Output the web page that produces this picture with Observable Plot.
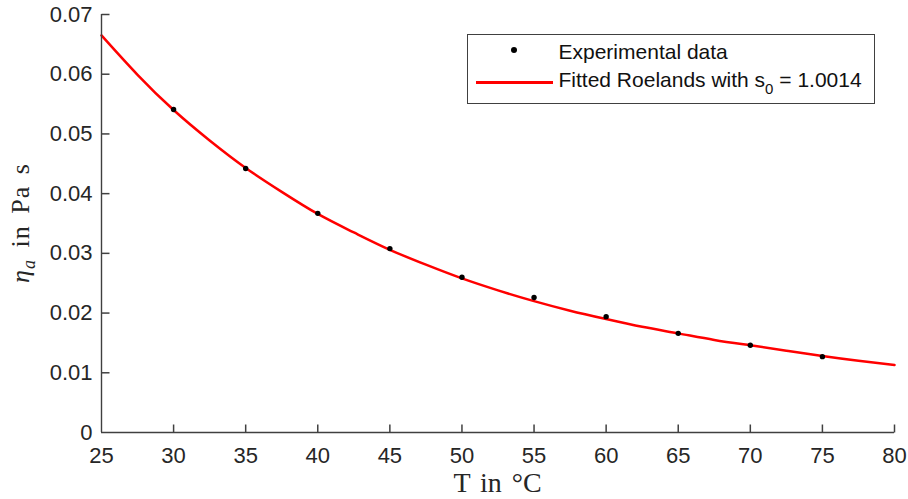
<!DOCTYPE html>
<html>
<head>
<meta charset="utf-8">
<script src="https://cdn.jsdelivr.net/npm/d3@7"></script>
<script src="https://cdn.jsdelivr.net/npm/@observablehq/plot@0.6"></script>
<style>
  body { margin: 0; background: #fff; }
  #wrap { position: relative; width: 908px; height: 499px; overflow: hidden; }
  #wrap svg { position: absolute; left: 0; top: 0; }
  .lbl { position: absolute; font-family: "Liberation Serif", "DejaVu Serif", serif; color: #262626; white-space: nowrap; }
  #legend { position: absolute; left: 467px; top: 34px; width: 408px; height: 70px; box-sizing: border-box; border: 1.2px solid #404040; background: #fff;
            font-family: "Liberation Sans", Arial, sans-serif; font-size: 21px; line-height: 21px; color: #111; }
  #legend .row { position: absolute; left: 90.5px; white-space: nowrap; }
  #legend sub { font-size: 15px; vertical-align: -7px; line-height: 0; }
  #legend .dot { position: absolute; left: 42.7px; top: 11.7px; width: 6px; height: 6px; border-radius: 50%; background: #000; }
  #legend .line { position: absolute; left: 7.7px; top: 46px; width: 77px; height: 2.5px; background: #ff0000; }
</style>
</head>
<body>
<div id="wrap"></div>
<script>
// Experimental data
const tempExp = [30, 35, 40, 45, 50, 55, 60, 65, 70, 75];
const etaExp = [0.0541, 0.0442, 0.0367, 0.0308, 0.0260, 0.0226, 0.0194, 0.0166, 0.0146, 0.0127];

// Fitted Roelands curve
const tempFit = [25, 27.5, 30, 32.5, 35, 37.5, 40, 42.5, 45, 47.5, 50, 52.5, 55, 57.5, 60, 62.5, 65, 67.5, 70, 72.5, 75, 77.5, 80];
const etaFit = [0.0665, 0.0599, 0.0540, 0.0489, 0.0443, 0.0403, 0.0366, 0.0335, 0.0306, 0.0281, 0.0258, 0.0238, 0.0220, 0.0204, 0.0190, 0.0177, 0.0166, 0.0155, 0.0146, 0.0137, 0.0128, 0.0120, 0.0113];

// Tick labels
const xTicks = [25, 30, 35, 40, 45, 50, 55, 60, 65, 70, 75, 80];
const yTicks = [0, 0.01, 0.02, 0.03, 0.04, 0.05, 0.06, 0.07];

const exp = tempExp.map((t, i) => ({t, eta: etaExp[i]}));
const fit = tempFit.map((t, i) => ({t, eta: etaFit[i]}));

const tickLen = 8;
const axisColor = "#404040";
const xMin = xTicks[0];
const yMin = yTicks[0];
// custom symbols: short inward tick strokes
const tickUp = { draw(context) { context.moveTo(0, 0); context.lineTo(0, -tickLen); } };
const tickRight = { draw(context) { context.moveTo(0, 0); context.lineTo(tickLen, 0); } };

const chart = Plot.plot({
  width: 908,
  height: 499,
  marginLeft: 101,
  marginRight: 14,
  marginTop: 14,
  marginBottom: 67,
  style: { fontFamily: "Liberation Sans, Arial, sans-serif", fontSize: "22px", color: "#262626", background: "#fff" },
  x: { domain: [25, 80] },
  y: { domain: [0, 0.07] },
  marks: [
    Plot.line(fit, { x: "t", y: "eta", stroke: "#ff0000", strokeWidth: 2.5, curve: "natural" }),
    Plot.dot(exp, { x: "t", y: "eta", r: 2.7, fill: "#000", stroke: "none" }),
    Plot.ruleY([yMin], { stroke: axisColor, strokeWidth: 1.4 }),
    Plot.ruleX([xMin], { stroke: axisColor, strokeWidth: 1.4 }),
    // inward tick marks
    Plot.dot(xTicks.slice(1), { x: d => d, y: yMin, symbol: tickUp, fill: "none", stroke: axisColor, strokeWidth: 1.5 }),
    Plot.dot(yTicks.slice(1), { x: xMin, y: d => d, symbol: tickRight, fill: "none", stroke: axisColor, strokeWidth: 1.5 }),
    Plot.axisX(xTicks, { tickSize: 0, tickPadding: 15, label: null, tickFormat: d => String(d), fill: "#262626", fontSize: 22 }),
    Plot.axisY(yTicks, { tickSize: 0, tickPadding: 9, label: null, tickFormat: d => d === 0 ? "0" : d.toFixed(2), fill: "#262626", fontSize: 22 })
  ]
});

const wrap = document.getElementById("wrap");
wrap.appendChild(chart);

const xl = document.createElement("div");
xl.className = "lbl";
xl.style.cssText = "left:497.5px; top:468.5px; transform:translateX(-50%); font-size:28px; line-height:28px; word-spacing:3px;";
xl.textContent = "T in °C";
wrap.appendChild(xl);

const yl = document.createElement("div");
yl.className = "lbl";
yl.style.cssText = "left:21px; top:223px; transform:translate(-50%,-50%) rotate(-90deg); font-size:26px; line-height:26px; word-spacing:4px; letter-spacing:1px;";
yl.innerHTML = '<i>η</i><sub style="font-size:18px;vertical-align:-6px;line-height:0"><i>a</i></sub> in Pa s';
wrap.appendChild(yl);

const lg = document.createElement("div");
lg.id = "legend";
lg.innerHTML = '<div class="dot"></div><div class="row" style="top:5.9px">Experimental data</div>' +
  '<div class="line"></div><div class="row" style="top:33.9px">Fitted Roelands with s<sub>0</sub> = 1.0014</div>';
wrap.appendChild(lg);
</script>
</body>
</html>
